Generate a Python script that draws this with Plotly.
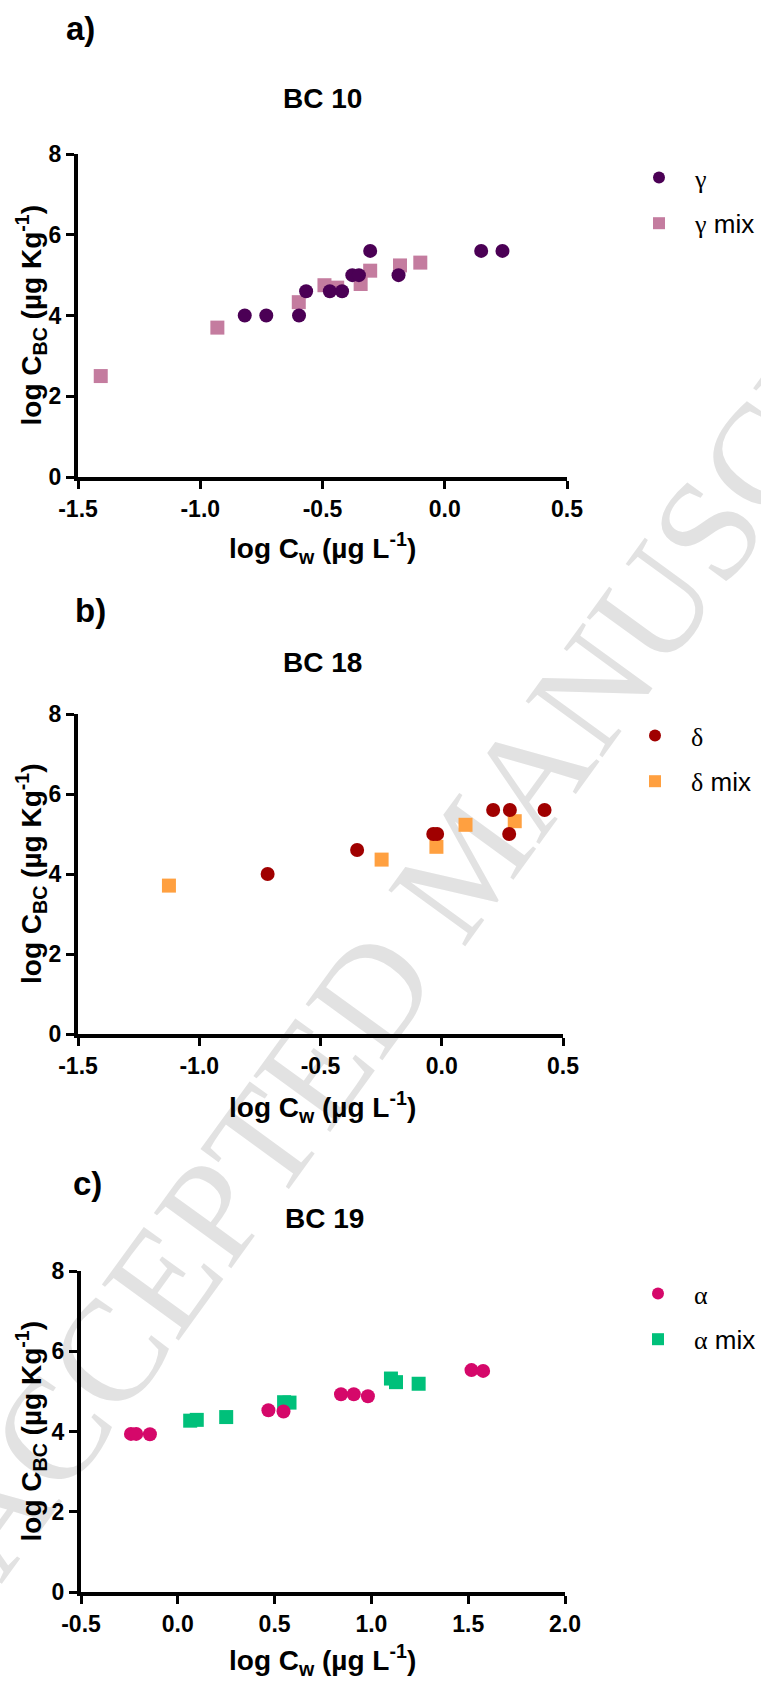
import plotly.graph_objects as go

W, H = 761, 1681

# ---------------- data ----------------
gamma_x = [-0.818, -0.73, -0.596, -0.567, -0.47, -0.42, -0.378, -0.351, -0.305, -0.189, 0.149, 0.236]
gamma_y = [4.0, 4.0, 4.0, 4.6, 4.6, 4.6, 5.0, 5.0, 5.6, 5.0, 5.6, 5.6]
gamma_mix_x = [-1.407, -0.930, -0.597, -0.492, -0.44, -0.344, -0.305, -0.183, -0.10]
gamma_mix_y = [2.50, 3.70, 4.33, 4.75, 4.69, 4.78, 5.11, 5.24, 5.31]

delta_x = [-0.718, -0.349, -0.035, -0.019, 0.212, 0.281, 0.278, 0.424]
delta_y = [4.0, 4.6, 5.0, 5.0, 5.6, 5.6, 5.0, 5.6]
delta_mix_x = [-1.125, -0.248, -0.022, 0.098, 0.301]
delta_mix_y = [3.71, 4.36, 4.68, 5.23, 5.32]

alpha_x = [-0.242, -0.215, -0.144, 0.468, 0.546, 0.843, 0.909, 0.982, 1.517, 1.577]
alpha_y = [3.94, 3.94, 3.93, 4.53, 4.50, 4.93, 4.93, 4.88, 5.53, 5.51]
alpha_mix_x = [0.064, 0.098, 0.25, 0.549, 0.577, 1.101, 1.127, 1.244]
alpha_mix_y = [4.27, 4.29, 4.36, 4.73, 4.72, 5.32, 5.23, 5.19]

x_ticks_ab = [-1.5, -1.0, -0.5, 0.0, 0.5]
x_ticks_c = [-0.5, 0.0, 0.5, 1.0, 1.5, 2.0]
y_ticks = [0, 2, 4, 6, 8]

panel_labels = ["a)", "b)", "c)"]
panel_titles = ["BC 10", "BC 18", "BC 19"]
series_names = [("γ", "γ mix"), ("δ", "δ mix"), ("α", "α mix")]
circle_colors = ["#4b0055", "#a00000", "#d5086a"]
square_colors = ["#c47c9f", "#ffa040", "#00c07a"]

# ---------------- layout helpers ----------------
def px(x):
    return x / W

def py(y):
    return 1 - y / H

FONT = "Liberation Sans, Arial, sans-serif"
SERIF = "Liberation Serif, Times New Roman, serif"

# pixel geometry of the three panels (left, right, top, bottom)
panels = [
    dict(l=78, r=567, t=154, b=477, xr=[-1.5, 0.5], xt=x_ticks_ab,
         leg=(658, 174), lab=(80, 29), tit=(322, 98), xtit=(322, 548)),
    dict(l=78, r=563, t=714, b=1034, xr=[-1.5, 0.5], xt=x_ticks_ab,
         leg=(654, 732), lab=(90, 610), tit=(322, 662), xtit=(322, 1107)),
    dict(l=81, r=565, t=1271, b=1592, xr=[-0.5, 2.0], xt=x_ticks_c,
         leg=(657, 1290), lab=(87, 1183), tit=(324, 1218), xtit=(322, 1660)),
]

data_sets = [
    (gamma_x, gamma_y, gamma_mix_x, gamma_mix_y),
    (delta_x, delta_y, delta_mix_x, delta_mix_y),
    (alpha_x, alpha_y, alpha_mix_x, alpha_mix_y),
]

ITEMW = 62

fig = go.Figure()
annotations = []
layout_axes = {}

for i, (p, d) in enumerate(zip(panels, data_sets)):
    n = "" if i == 0 else str(i + 1)
    xa, ya = "x" + n, "y" + n
    leg = "legend" + n
    cx, cy, sx, sy = d
    sym_name, mix_name = series_names[i]
    mix_label = f"<span style='font-family:{SERIF}'>{mix_name.split(' ')[0]}</span> mix"
    circ_label = f"<span style='font-family:{SERIF}'>{sym_name}</span>"
    # squares first so circles are drawn on top
    fig.add_trace(go.Scatter(
        x=sx, y=sy, mode="markers", name=mix_label, xaxis=xa, yaxis=ya,
        legend=leg, legendrank=2, legendgroup=f"m{i}",
        marker=dict(symbol="square", size=14, color=square_colors[i], line=dict(width=0)),
        cliponaxis=False,
    ))
    fig.add_trace(go.Scatter(
        x=cx, y=cy, mode="markers", name=circ_label, xaxis=xa, yaxis=ya,
        legend=leg, legendrank=1, legendgroup=f"c{i}",
        marker=dict(symbol="circle", size=14, color=circle_colors[i], line=dict(width=0)),
        cliponaxis=False,
    ))

    axis_common = dict(
        showline=True, linecolor="black", linewidth=4, ticks="outside",
        ticklen=8, tickwidth=3, tickcolor="black", showgrid=False, zeroline=False,
        tickfont=dict(family=FONT, size=23, color="black", weight="bold"),
        automargin=False,
    )
    layout_axes["xaxis" + n] = dict(
        axis_common, domain=[px(p["l"]), px(p["r"])], range=p["xr"],
        anchor=ya, tickvals=p["xt"], ticktext=[f"{v:.1f}" for v in p["xt"]],
    )
    layout_axes["yaxis" + n] = dict(
        axis_common, domain=[py(p["b"]), py(p["t"])], range=[0, 8],
        anchor=xa, tickvals=y_ticks, ticktext=[str(v) for v in y_ticks],
    )
    layout_axes[leg] = dict(
        x=px(p["leg"][0] - ITEMW / 2 - 4), y=py(p["leg"][1] - 20), xanchor="left", yanchor="top",
        font=dict(family=FONT, size=26, color="black"), bgcolor="rgba(0,0,0,0)",
        tracegroupgap=9, traceorder="grouped", itemsizing="constant", itemwidth=ITEMW,
    )

    bold = dict(family=FONT, color="black", weight="bold")
    annotations += [
        dict(text=panel_labels[i], x=px(p["lab"][0]), y=py(p["lab"][1]), xref="paper", yref="paper",
             showarrow=False, xanchor="center", yanchor="middle", font=dict(bold, size=33)),
        dict(text=panel_titles[i], x=px(p["tit"][0]), y=py(p["tit"][1]), xref="paper", yref="paper",
             showarrow=False, xanchor="center", yanchor="middle", font=dict(bold, size=28)),
        dict(text="log C<sub>w</sub> (µg L<sup>-1</sup>)", x=px(p["xtit"][0]), y=py(p["xtit"][1]),
             xref="paper", yref="paper", showarrow=False, xanchor="center", yanchor="middle",
             font=dict(bold, size=28)),
        dict(text="log C<sub>BC</sub> (µg Kg<sup>-1</sup>)", x=px(31), y=py((p["t"] + p["b"]) / 2),
             xref="paper", yref="paper", showarrow=False, xanchor="center", yanchor="middle",
             textangle=-90, font=dict(bold, size=28)),
    ]

# watermark, drawn beneath the data
wm_cx, wm_cy, half = 454, 851, 700
cosa, sina = 0.588, 0.809
shapes = [dict(
    type="line", xref="paper", yref="paper", layer="below",
    x0=px(wm_cx - half * cosa), y0=py(wm_cy + half * sina),
    x1=px(wm_cx + half * cosa), y1=py(wm_cy - half * sina),
    line=dict(color="rgba(0,0,0,0)", width=1),
    label=dict(text="ACCEPTED MANUSCRIPT", textposition="middle", textangle=-54,
               yanchor="middle", font=dict(family=SERIF, size=145, color="#e2e2e2")),
)]

fig.update_layout(
    width=W, height=H, margin=dict(l=0, r=0, t=0, b=0, autoexpand=False),
    paper_bgcolor="white", plot_bgcolor="rgba(0,0,0,0)",
    showlegend=True, annotations=annotations, shapes=shapes,
    **layout_axes,
)

fig.write_html("out.html")
